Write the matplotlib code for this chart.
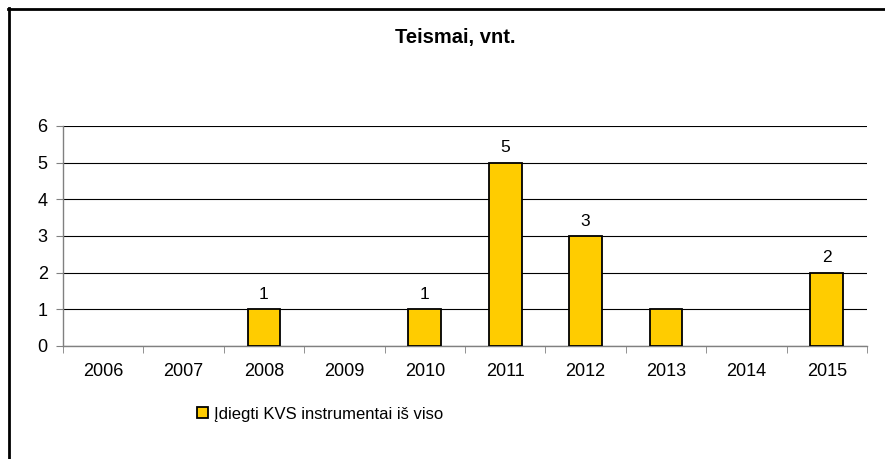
import matplotlib.pyplot as plt
from matplotlib.lines import Line2D
from matplotlib.patches import Patch

plt.rcParams["font.family"] = ["Liberation Sans", "DejaVu Sans"]

years = ["2006", "2007", "2008", "2009", "2010", "2011", "2012", "2013", "2014", "2015"]
values = [0, 0, 1, 0, 1, 5, 3, 1, 0, 2]
# the source chart shows value labels on these bars only
shown_labels = ["", "", "1", "", "1", "5", "3", "", "", "2"]
series_name = "Įdiegti KVS instrumentai iš viso"
title = "Teismai, vnt."

BAR = "#FFCC00"

fig = plt.figure(figsize=(8.85, 4.59), dpi=100)
ax = fig.add_axes([63 / 885, 1 - 346 / 459, 804 / 885, 220 / 459])

xs = list(range(len(years)))
bars = ax.bar(xs, values, width=0.41, color=BAR, edgecolor="black", linewidth=1.3,
              zorder=3)
for b, v in zip(bars, values):
    if v == 0:
        b.set_visible(False)
for x, v, lab in zip(xs, values, shown_labels):
    if lab:
        ax.text(x, v + 0.2, lab, ha="center", va="bottom", fontsize=12.5)

ax.set_xlim(-0.5, len(years) - 0.5)
ax.set_ylim(0, 6)
ax.set_yticks(range(7))
ax.yaxis.grid(True, color="black", linewidth=0.8, zorder=0)
ax.set_axisbelow(True)
ax.set_xticks(xs)
ax.set_xticklabels(years)
ax.set_xticks([i - 0.5 for i in range(len(years) + 1)], minor=True)
ax.tick_params(axis="x", which="major", length=0, pad=12, labelsize=13)
ax.tick_params(axis="x", which="minor", length=5, color="#808080", direction="out")
ax.tick_params(axis="y", length=5, color="#808080", pad=6, labelsize=13)
for s in ("top", "right"):
    ax.spines[s].set_visible(False)
for s in ("left", "bottom"):
    ax.spines[s].set_color("#808080")
    ax.spines[s].set_linewidth(1.0)

fig.text(455 / 885, 1 - 43 / 459, title, ha="center", va="baseline",
         fontsize=14.5, fontweight="bold")

handle = Patch(facecolor=BAR, edgecolor="black", linewidth=1.3)
fig.legend(handles=[handle], labels=[series_name], loc="center left",
           bbox_to_anchor=(197 / 885, 1 - 414 / 459), frameon=False,
           handlelength=0.65, handleheight=0.65, handletextpad=0.35,
           borderpad=0, borderaxespad=0, fontsize=12)

# chart border (left and top edges)
fig.add_artist(Line2D([9 / 885, 9 / 885], [0, 1 - 8 / 459], transform=fig.transFigure,
                      color="black", linewidth=2))
fig.add_artist(Line2D([8 / 885, 1], [1 - 9 / 459, 1 - 9 / 459], transform=fig.transFigure,
                      color="black", linewidth=2))

fig.savefig("out.png", dpi=100)
